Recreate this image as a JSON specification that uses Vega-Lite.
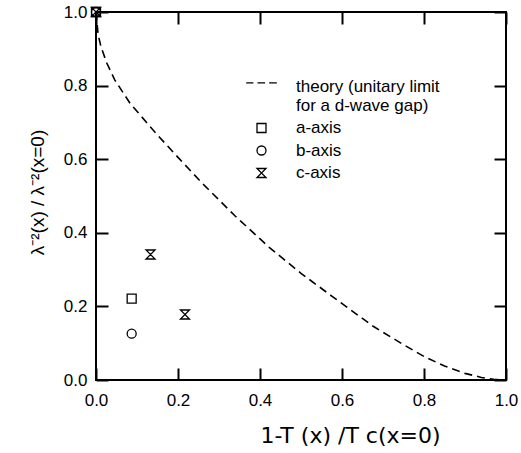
{
  "$schema": "https://vega.github.io/schema/vega-lite/v6.json",
  "width": 410,
  "height": 368,
  "autosize": {"type": "none"},
  "padding": {"left": 96, "top": 12, "right": 15, "bottom": 73},
  "background": "white",
  "config": {
    "font": "Liberation Sans",
    "view": {"stroke": "black", "strokeWidth": 2},
    "axis": {
      "domain": false,
      "grid": false,
      "tickSize": -12,
      "tickWidth": 2,
      "tickColor": "black",
      "labelColor": "black",
      "labelFontSize": 17,
      "labelFlush": false,
      "titleColor": "black",
      "titleFontWeight": "normal"
    }
  },
  "datasets": {
    "theory": [
      {"x": 0.0, "y": 1.0},
      {"x": 0.005, "y": 0.94},
      {"x": 0.012, "y": 0.906},
      {"x": 0.026, "y": 0.862},
      {"x": 0.046, "y": 0.815},
      {"x": 0.083, "y": 0.752},
      {"x": 0.148, "y": 0.668},
      {"x": 0.2, "y": 0.605},
      {"x": 0.258, "y": 0.536},
      {"x": 0.34, "y": 0.445},
      {"x": 0.424, "y": 0.359},
      {"x": 0.5, "y": 0.29},
      {"x": 0.575, "y": 0.228},
      {"x": 0.676, "y": 0.146},
      {"x": 0.75, "y": 0.096},
      {"x": 0.8, "y": 0.064},
      {"x": 0.85, "y": 0.038},
      {"x": 0.9, "y": 0.018},
      {"x": 0.94, "y": 0.007},
      {"x": 0.97, "y": 0.002},
      {"x": 1.0, "y": 0.0}
    ],
    "points": [
      {"series": "a-axis", "x": 0.0, "y": 1.0},
      {"series": "b-axis", "x": 0.0, "y": 1.0},
      {"series": "c-axis", "x": 0.0, "y": 1.0},
      {"series": "a-axis", "x": 0.087, "y": 0.221},
      {"series": "b-axis", "x": 0.087, "y": 0.126},
      {"series": "c-axis", "x": 0.133, "y": 0.341},
      {"series": "c-axis", "x": 0.217, "y": 0.178}
    ]
  },
  "layer": [
    {
      "data": {"name": "theory"},
      "mark": {"type": "line", "color": "black", "strokeWidth": 1.6, "strokeDash": [8, 5]},
      "encoding": {
        "x": {
          "field": "x", "type": "quantitative",
          "scale": {"domain": [0, 1], "nice": false},
          "axis": {
            "orient": "bottom",
            "values": [0, 0.2, 0.4, 0.6, 0.8, 1.0],
            "format": ".1f",
            "labelPadding": 24,
            "title": "1-T (x) /T c(x=0)",
            "titleFont": "DejaVu Sans",
            "titleFontSize": 22,
            "titlePadding": 17,
            "titleX": 254
          }
        },
        "y": {
          "field": "y", "type": "quantitative",
          "scale": {"domain": [0, 1], "nice": false},
          "axis": {
            "orient": "left",
            "values": [0, 0.2, 0.4, 0.6, 0.8, 1.0],
            "format": ".1f",
            "labelPadding": 21,
            "title": "λ⁻²(x) / λ⁻²(x=0)",
            "titleFontSize": 19,
            "titlePadding": 16,
            "titleY": 180
          }
        }
      }
    },
    {
      "data": {"name": "points"},
      "mark": {"type": "point", "filled": false, "color": "black", "strokeWidth": 1.3, "size": 81, "opacity": 1},
      "encoding": {
        "x": {
          "field": "x", "type": "quantitative",
          "axis": {"orient": "top", "values": [0, 0.2, 0.4, 0.6, 0.8, 1.0], "labels": false, "title": null}
        },
        "y": {
          "field": "y", "type": "quantitative",
          "axis": {"orient": "right", "values": [0, 0.2, 0.4, 0.6, 0.8, 1.0], "labels": false, "title": null}
        },
        "shape": {
          "field": "series", "type": "nominal",
          "scale": {
            "domain": ["theory", "a-axis", "b-axis", "c-axis"],
            "range": ["M-3.4,-0.8H-1.8M-0.9,-0.8H0.8M1.7,-0.8H3.4", "square", "circle", "M-1,-1H1L-1,1H1Z"]
          },
          "legend": {
            "orient": "none",
            "legendX": 157,
            "legendY": 66,
            "title": null,
            "padding": 0,
            "labelFontSize": 17,
            "labelColor": "black",
            "labelOffset": 26,
            "labelLimit": 400,
            "symbolSize": 81,
            "symbolStrokeColor": "black",
            "symbolFillColor": "transparent",
            "symbolStrokeWidth": 1.3,
            "rowPadding": 4.5,
            "labelExpr": "datum.label == 'theory' ? ['theory (unitary limit', 'for a d-wave gap)'] : datum.label"
          }
        }
      }
    }
  ]
}
